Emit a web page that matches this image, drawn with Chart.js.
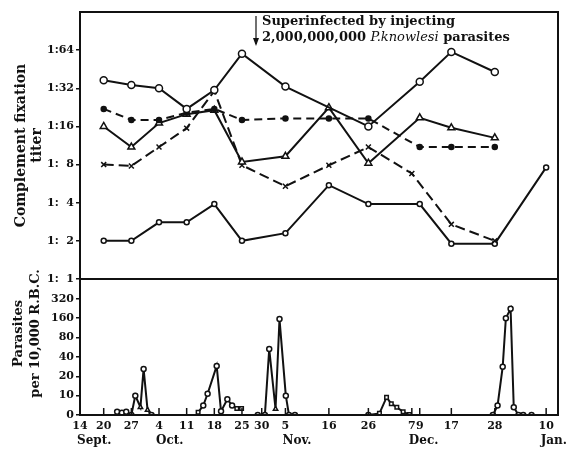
<!DOCTYPE html>
<html>
<head>
<meta charset="utf-8">
<script src="https://cdn.jsdelivr.net/npm/chart.js@4"></script>
<style>
  html, body { margin: 0; padding: 0; background: #fff; }
  canvas { display: block; }
</style>
</head>
<body>
<canvas id="titerChart" width="568" height="452"></canvas>
<script>
// days counted from Sept 14
const tickDays = [0, 6, 13, 20, 27, 34, 41, 46, 52, 63, 73, 84, 86, 94, 105, 118];
const tickLabels = ["14", "20", "27", "4", "11", "18", "25", "30", "5", "16", "26", "7", "9", "17", "28", "10"];
const monthNames = ["Sept.", "Oct.", "Nov.", "Dec.", "Jan."];
const monthStartDays = [0, 20, 52, 84, 118];

// complement fixation titer (1:n), sampled on these days
const sampleDays = [6, 13, 20, 27, 34, 41, 52, 63, 73, 84, 86, 94, 105, 118];
const titerA = [37, 34, 32, 22, 31, 60, 33, null, 16, null, 36, 62, 43, null];
const titerB = [22, 18, 18, 20.5, 22, 18, 18.5, 18.5, 18.5, null, 11, 11, 11, null];
const titerC = [16, 11, 17, 20, 21.5, 8.4, 9.3, 22.5, 8.2, null, 18.7, 15.6, 13, null];
const titerD = [8, 7.8, 11, 15.5, 30.5, 7.9, 5.4, 7.9, 11, 6.8, null, 2.7, 2, null];
const titerE = [2, 2, 2.8, 2.8, 3.9, 2, 2.3, 5.5, 3.9, null, 3.9, 1.9, 1.9, 7.6];
const titerTicks = [1, 2, 4, 8, 16, 32, 64];
const titerTickLabels = ["1:\u20071", "1:\u20072", "1:\u20074", "1:\u20078", "1:16", "1:32", "1:64"];

// parasites per 10,000 R.B.C. (null = break between episodes)
const parasiteDays = [9.4, 10.6, 11.7, 13, 14, 15.3, 16.1, 17.1, 18.1, 24,
  29.9, 31.2, 32.3, 34.6, 35.7, 37.3, 38.5, 39.7, 40.9, 43,
  45, 46.8, 47.9, 49.5, 50.5, 52.1, 52.9, 54.4, 64,
  73, 75.8, 77.6, 78.8, 80.2, 81.8, 83.4, 95,
  104.5, 105.7, 107, 107.8, 109, 109.8, 111, 112.2, 114.3];
const parasiteCounts = [5.6, 5.4, 5.6, 0, 10, 6.6, 26, 6, 0, null,
  5.5, 7, 10.7, 29, 5.7, 8.8, 7, 6.3, 6.3, null,
  0, 0, 53, 6.2, 155, 10, 0, 0, null,
  0, 5.3, 9.4, 7.5, 6.6, 5.6, 5.1, null,
  0, 7, 28, 160, 224, 6.6, 0, 0, 0];
const parasiteTicks = [5, 10, 20, 40, 80, 160, 320];
const parasiteTickLabels = ["0", "10", "20", "40", "80", "160", "320"];

const triangleDays = [15.3, 17.1, 49.5];
const squareDays = [29.9, 39.7, 40.9, 75.8, 77.6, 78.8, 80.2, 81.8, 83.4];

const INK = "#111";
const SERIF = "'DejaVu Serif', serif";

function titerSeries(values, style) {
    return Object.assign({
        yAxisID: "yT",
        data: sampleDays.map((d, i) => ({ x: d, y: values[i] })),
        borderColor: INK,
        borderWidth: 2,
        pointBorderColor: INK,
        pointBorderWidth: 1.5,
        pointBackgroundColor: "#fff",
        spanGaps: true,
        tension: 0,
    }, style);
}

const datasets = [
    titerSeries(titerA, { pointStyle: "circle", pointRadius: 3.5 }),
    titerSeries(titerB, { pointStyle: "circle", pointRadius: 2.5, pointBackgroundColor: INK, borderDash: [8, 5] }),
    titerSeries(titerC, { pointStyle: "triangle", pointRadius: 4 }),
    titerSeries(titerD, { pointStyle: "crossRot", pointRadius: 3.5, borderDash: [10, 5] }),
    titerSeries(titerE, { pointStyle: "circle", pointRadius: 2.5 }),
    {
        yAxisID: "yP",
        data: parasiteDays.map((d, i) => ({
            x: d,
            y: parasiteCounts[i] === null ? null : Math.max(parasiteCounts[i], 5),
        })),
        borderColor: INK,
        borderWidth: 2,
        pointBorderColor: INK,
        pointBorderWidth: 1.5,
        pointBackgroundColor: "#fff",
        pointRadius: 2.5,
        pointStyle: (ctx) => {
            const d = ctx.raw ? ctx.raw.x : null;
            if (triangleDays.includes(d)) return "triangle";
            if (squareDays.includes(d)) return "rect";
            return "circle";
        },
        spanGaps: false,
        tension: 0,
    },
];

// frame, divider, inner date ticks, month names and the note
const framePlugin = {
    id: "frame",
    afterDraw(chart) {
        const { ctx, chartArea: a, scales } = chart;
        ctx.save();
        ctx.strokeStyle = INK;
        ctx.lineWidth = 2;
        ctx.strokeRect(a.left, a.top, a.right - a.left, a.bottom - a.top);
        const yDiv = scales.yT.bottom;
        ctx.beginPath();
        ctx.moveTo(a.left, yDiv);
        ctx.lineTo(a.right, yDiv);
        ctx.stroke();

        ctx.lineWidth = 1.5;
        scales.x.ticks.forEach((t) => {
            const px = scales.x.getPixelForValue(t.value);
            if (px <= a.left + 2) return;
            ctx.beginPath();
            ctx.moveTo(px, a.bottom);
            ctx.lineTo(px, a.bottom - 7);
            ctx.stroke();
        });

        ctx.fillStyle = INK;
        ctx.font = "bold 12px " + SERIF;
        ctx.textBaseline = "middle";
        ctx.textAlign = "left";
        monthNames.forEach((m, i) => {
            let px = scales.x.getPixelForValue(monthStartDays[i]) - 3;
            const w = ctx.measureText(m).width;
            px = Math.min(px, chart.width - 1 - w);
            ctx.fillText(m, px, 441);
        });

        // superinfection note
        const ax = 256;
        ctx.lineWidth = 1.2;
        ctx.beginPath();
        ctx.moveTo(ax, 16);
        ctx.lineTo(ax, 44);
        ctx.stroke();
        ctx.beginPath();
        ctx.moveTo(ax - 3, 38);
        ctx.lineTo(ax, 46);
        ctx.lineTo(ax + 3, 38);
        ctx.closePath();
        ctx.fill();

        let tx = 262;
        ctx.font = "bold 13px " + SERIF;
        ctx.fillText("Superinfected by injecting", tx, 22);
        const part1 = "2,000,000,000 ";
        ctx.fillText(part1, tx, 38);
        tx += ctx.measureText(part1).width;
        ctx.font = "italic 13px " + SERIF;
        ctx.fillText("P.knowlesi", tx, 38);
        tx += ctx.measureText("P.knowlesi").width;
        ctx.font = "bold 13px " + SERIF;
        ctx.fillText(" parasites", tx, 38);
        ctx.restore();
    },
};

const tickFont = { family: SERIF, size: 11, weight: "bold" };
const titleFont = { family: SERIF, size: 14, weight: "bold", lineHeight: 1.15 };

new Chart(document.getElementById("titerChart").getContext("2d"), {
    type: "line",
    data: { datasets: datasets },
    options: {
        responsive: false,
        animation: false,
        events: [],
        layout: { padding: { top: 12, right: 10, left: 0, bottom: 0 } },
        plugins: { legend: { display: false }, tooltip: { enabled: false } },
        scales: {
            x: {
                type: "linear",
                min: 0,
                max: 121,
                afterBuildTicks: (s) => { s.ticks = tickDays.map((v) => ({ value: v })); },
                afterFit: (s) => { s.height = 37; },
                ticks: {
                    autoSkip: false,
                    maxRotation: 0,
                    padding: 5,
                    color: INK,
                    font: tickFont,
                    callback: (v) => tickLabels[tickDays.indexOf(v)],
                },
                grid: { display: false, drawTicks: false, tickLength: 0 },
                border: { display: false },
            },
            yP: {
                type: "logarithmic",
                position: "left",
                stack: "v",
                stackWeight: 136,
                weight: 1,
                min: 5,
                max: 650,
                afterBuildTicks: (s) => { s.ticks = parasiteTicks.map((v) => ({ value: v })); },
                afterFit: (s) => { s.width = 80; },
                ticks: {
                    autoSkip: false,
                    padding: 2,
                    color: INK,
                    font: tickFont,
                    callback: (v) => parasiteTickLabels[parasiteTicks.indexOf(v)],
                },
                grid: { drawOnChartArea: false, tickLength: 4, color: INK, lineWidth: 1.5 },
                border: { display: false },
                title: {
                    display: true,
                    // leading spaces lift the title a little above the panel centre
                    text: ["      Parasites", "      per 10,000 R.B.C."],
                    color: INK,
                    font: { family: SERIF, size: 13, weight: "bold", lineHeight: 1.3 },
                    padding: { top: 10, bottom: 0 },
                },
            },
            yT: {
                type: "logarithmic",
                position: "left",
                stack: "v",
                stackWeight: 267,
                weight: 2,
                min: 1,
                max: 128,
                afterBuildTicks: (s) => { s.ticks = titerTicks.map((v) => ({ value: v })); },
                afterFit: (s) => { s.width = 80; },
                ticks: {
                    autoSkip: false,
                    padding: 2,
                    color: INK,
                    font: tickFont,
                    callback: (v) => titerTickLabels[titerTicks.indexOf(v)],
                },
                grid: { drawOnChartArea: false, tickLength: 4, color: INK, lineWidth: 1.5 },
                border: { display: false },
                title: {
                    display: true,
                    text: ["Complement fixation", "titer"],
                    color: INK,
                    font: titleFont,
                    padding: { top: 13, bottom: 0 },
                },
            },
        },
    },
    plugins: [framePlugin],
});
</script>
</body>
</html>
